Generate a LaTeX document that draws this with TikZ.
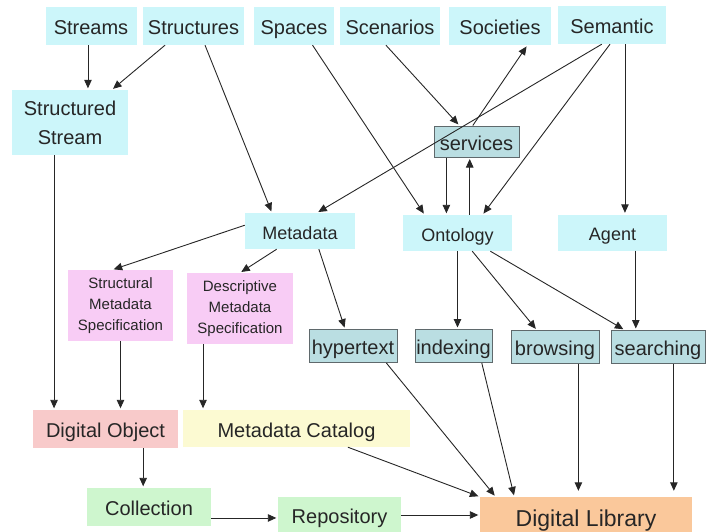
\documentclass[tikz,border=0pt]{standalone}
\usepackage{fontspec}
\setmainfont{Liberation Sans}
\usetikzlibrary{arrows.meta}
\definecolor{topiccyan}{RGB}{204,246,250}
\definecolor{servfill}{RGB}{186,222,226}
\definecolor{servline}{RGB}{95,105,108}
\definecolor{specpink}{RGB}{248,204,245}
\definecolor{objpink}{RGB}{248,202,202}
\definecolor{catyellow}{RGB}{252,250,210}
\definecolor{repgreen}{RGB}{206,246,206}
\definecolor{liborange}{RGB}{250,200,155}
\begin{document}
\begin{tikzpicture}[x=1pt,y=-1pt,
	topic/.style={rectangle, fill=topiccyan, inner sep=0pt, minimum height=38pt, text=black!85, font=\fontsize{20}{29}\selectfont, align=center},
	single/.style={text height=17.5pt, text depth=0pt},
	mid/.style={topic, single, minimum height=36pt, font=\fontsize{18}{22}\selectfont, text height=16.5pt},
	service/.style={rectangle, single, fill=servfill, draw=servline, line width=1pt, inner sep=0pt, minimum height=33pt, text=black!85, font=\fontsize{20}{24}\selectfont},
	spec/.style={rectangle, fill=specpink, inner sep=0pt, minimum height=71pt, text=black!85, font=\fontsize{15}{21}\selectfont, align=center},
	store/.style={rectangle, single, inner sep=0pt, minimum height=38pt, text=black!85, font=\fontsize{20}{24}\selectfont},
	link/.style={-{Triangle[length=8.5pt,width=7.5pt]}, line width=0.9pt, draw=black!85, shorten >=1.5pt}]
		\useasboundingbox (0,0) rectangle (714,532);

		\node[topic, single, minimum width=91pt] (streams) at (91,26) {Streams};
		\node[topic, single, minimum width=101pt] (structures) at (193.5,26) {Structures};
		\node[topic, single, minimum width=80pt] (spaces) at (294,26) {Spaces};
		\node[topic, single, minimum width=100pt] (scenarios) at (390,26) {Scenarios};
		\node[topic, single, minimum width=102pt] (societies) at (500,26) {Societies};
		\node[topic, single, minimum width=108pt] (semantic) at (612,25) {Semantic};
		\node[topic, minimum width=116pt, minimum height=65pt] (sstream) at (70,122.5) {Structured\\Stream};

		\node[service, minimum width=85pt, minimum height=31pt] (services) at (476.5,141.5) {services};

		\node[mid, minimum width=110pt] (metadata) at (300,231) {Metadata};
		\node[mid, minimum width=109pt] (ontology) at (457.5,233) {Ontology};
		\node[mid, minimum width=109pt] (agent) at (612.5,232.5) {Agent};

		\node[spec, minimum width=105pt] (structspec) at (120.5,305.5) {Structural\\Metadata\\Specification};
		\node[spec, minimum width=106pt] (descspec) at (240,308.5) {Descriptive\\Metadata\\Specification};

		\node[service, minimum width=88pt] (hypertext) at (353,346) {hypertext};
		\node[service, minimum width=77pt] (indexing) at (453.5,346) {indexing};
		\node[service, minimum width=88pt] (browsing) at (555,347) {browsing};
		\node[service, minimum width=94pt] (searching) at (658,347) {searching};

		\node[store, fill=objpink, minimum width=145pt] (dobject) at (105.5,429) {Digital Object};
		\node[store, fill=catyellow, minimum width=227pt, minimum height=37pt] (mcatalog) at (296.5,428.5) {Metadata Catalog};
		\node[store, fill=repgreen, minimum width=124pt] (collection) at (149,507) {Collection};
		\node[store, fill=repgreen, minimum width=123pt, minimum height=36pt] (repository) at (339.5,515) {Repository};
		\node[store, fill=liborange, minimum width=212pt, font=\fontsize{23}{27}\selectfont, text height=20.5pt] (dlibrary) at (586,516) {Digital Library};

		\draw[link] (streams.261) -- (streams.261 |- sstream.north);
		\draw[link] (structures.214) -- (sstream.38);
		\draw[link] (structures.301) -- (metadata.147);
		\draw[link] (spaces.314) -- (ontology.151);
		\draw[link] (scenarios.258) -- (services.137);
		\draw[link] (services.103) -- (societies.325);
		\draw[link] (semantic.242) -- (metadata.47);
		\draw[link] (semantic.264) -- (ontology.36);
		\draw[link] (semantic.304) -- (semantic.304 |- agent.north);

		\draw[link] (services.208) -- (services.208 |- ontology.north);
		\draw[link] (services.247 |- ontology.north) -- (services.247);

		\draw[link] (metadata.174) -- (structspec.103);
		\draw[link] (metadata.218) -- (descspec.north);
		\draw[link] (metadata.316) -- (hypertext.115);
		\draw[link] (ontology.south) -- (ontology.south |- indexing.north);
		\draw[link] (ontology.309) -- (browsing.137);
		\draw[link] (ontology.331) -- (searching.153);
		\draw[link] (agent.322) -- (agent.322 |- searching.north);

		\draw[link] (sstream.244) -- (sstream.244 |- dobject.north);
		\draw[link] (structspec.south) -- (structspec.south |- dobject.north);
		\draw[link] (descspec.224) -- (descspec.224 |- mcatalog.north);
		\draw[link] (dobject.333) -- (dobject.333 |- collection.north);
		\draw[link] (collection.350) -- (collection.350 -| repository.west);
		\draw[link] (repository.east) -- (repository.east -| dlibrary.west);

		\draw[link] (mcatalog.340) -- (dlibrary.north west);
		\draw[link] (hypertext.333) -- (dlibrary.168);
		\draw[link] (indexing.329) -- (dlibrary.165);
		\draw[link, shorten >=6pt] (browsing.324) -- (browsing.324 |- dlibrary.north);
		\draw[link, shorten >=6pt] (searching.313) -- (searching.313 |- dlibrary.north);
	\end{tikzpicture}
\end{document}
